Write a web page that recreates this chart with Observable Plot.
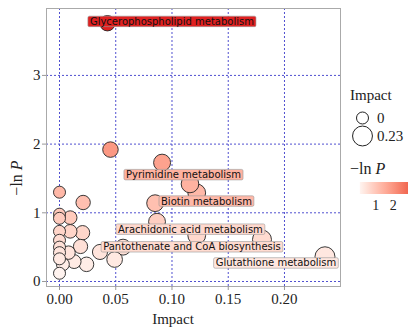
<!DOCTYPE html>
<html><head><meta charset="utf-8">
<script src="https://cdn.jsdelivr.net/npm/d3@7"></script>
<script src="https://cdn.jsdelivr.net/npm/@observablehq/plot@0.6"></script>
<style>html,body{margin:0;padding:0;background:#fff} svg{display:block}</style>
</head><body><div id="chart"></div>
<script>
// ---- data ----
const impact = [0, 0, 0, 0, 0, 0, 0, 0, 0.003, 0, 0.0095, 0.0095, 0.0205, 0.0187, 0.008, 0.013, 0.024, 0.021, 0.036, 0.049, 0.0565, 0.0453, 0.0426, 0.0912, 0.116, 0.122, 0.085, 0.0867, 0.122, 0.18, 0.236];
const lnP    = [1.30, 0.98, 0.92, 0.73, 0.60, 0.50, 0.42, 0.33, 0.25, 0.12, 0.93, 0.73, 0.71, 0.51, 0.42, 0.29, 0.25, 1.15, 0.43, 0.32, 0.50, 1.92, 3.76, 1.73, 1.42, 1.29, 1.14, 0.87, 0.67, 0.61, 0.36];
const pathway = [null, null, null, null, null, null, null, null, null, null, null, null, null, null, null, null, null, null, null, null, null, null,
  "Glycerophospholipid metabolism", null, "Pyrimidine metabolism", "Biotin metabolism", null, null,
  "Arachidonic acid metabolism", "Pantothenate and CoA biosynthesis", "Glutathione metabolism"];
const xTicks = [0, 0.05, 0.10, 0.15, 0.20];
const yTicks = [0, 1, 2, 3];
const sizeLegendValues = [0, 0.23];
const sizeLegendLabels = ["0", "0.23"];
const colorLegendTicks = [1, 2];

// ---- layout (label nudges in px, like ggrepel placement) ----
const nudge = {
  "Glycerophospholipid metabolism": [64.5, -1.5],
  "Pyrimidine metabolism": [-6.5, -9],
  "Biotin metabolism": [9.7, 8.5],
  "Arachidonic acid metabolism": [-6.3, -6],
  "Pantothenate and CoA biosynthesis": [-70, 7.5],
  "Glutathione metabolism": [-49, 6.5]
};

const points = impact.map((d, i) => ({impact: d, lnP: lnP[i], name: pathway[i]}));
const labelled = points.filter(d => d.name);

const serif = "'Liberation Serif', 'Times New Roman', serif";
const labelMarks = labelled.map(d => Plot.text([d], {
  x: "impact", y: "lnP", text: "name",
  dx: nudge[d.name][0], dy: nudge[d.name][1],
  fontFamily: "DejaVu Sans", fontSize: 10, fill: "#111"
}));

const plot = Plot.plot({
  width: 408, height: 329,
  marginLeft: 46, marginRight: 68, marginTop: 8, marginBottom: 43,
  style: {fontFamily: serif, fontSize: "15px", color: "#222", background: "#fff"},
  x: {domain: [-0.01156, 0.2498]},
  y: {domain: [-0.0728, 3.974]},
  r: {type: "sqrt", domain: [0, 0.236], range: [6, 10]},
  color: {type: "linear", domain: [0.1, 3.76], range: ["#fff4f0", "#e02020"], interpolate: d3.interpolateLab},
  marks: [
    Plot.gridX(xTicks, {stroke: "#5050d0", strokeOpacity: 1, strokeDasharray: "2,2"}),
    Plot.gridY(yTicks, {stroke: "#5050d0", strokeOpacity: 1, strokeDasharray: "2,2"}),
    Plot.frame({stroke: "#aaa"}),
    Plot.axisX(xTicks, {tickFormat: d3.format(".2f"), tickSize: 4, tickPadding: 3, stroke: "#999", color: "#222", label: null}),
    Plot.axisY(yTicks, {tickFormat: d3.format("d"), tickSize: 4, tickPadding: 2, stroke: "#999", color: "#222", label: null}),
    Plot.dot(points, {x: "impact", y: "lnP", r: "impact", fill: "lnP", stroke: "#222", strokeWidth: 0.9}),
    ...labelMarks
  ]
});
document.getElementById("chart").appendChild(plot);

const cS = plot.scale("color"), rS = plot.scale("r");
const svg = d3.select(plot);

// label boxes behind text
svg.selectAll('g[aria-label="text"]').each(function(_, gi) {
  const t = this.querySelector("text");
  const bb = t.getBBox();
  const rect = document.createElementNS("http://www.w3.org/2000/svg", "rect");
  rect.setAttribute("x", bb.x - 2);
  rect.setAttribute("y", bb.y + 0.25);
  rect.setAttribute("width", bb.width + 4);
  rect.setAttribute("height", bb.height - 0.5);
  rect.setAttribute("rx", 1.5);
  rect.setAttribute("fill", cS.apply(labelled[gi].lnP));
  rect.setAttribute("stroke", "#999");
  rect.setAttribute("stroke-width", 0.6);
  if (t.getAttribute("transform")) rect.setAttribute("transform", t.getAttribute("transform"));
  t.parentNode.insertBefore(rect, t);
});

// axis titles
svg.append("text").attr("x", 173).attr("y", 324).attr("text-anchor", "middle")
  .attr("font-family", serif).attr("font-size", 15).attr("fill", "#222").text("Impact");
const yl = svg.append("text").attr("transform", "translate(22,178) rotate(-90)").attr("text-anchor", "middle")
  .attr("font-family", serif).attr("font-size", 16).attr("fill", "#222");
yl.append("tspan").text("\u2212ln ");
yl.append("tspan").attr("font-style", "italic").text("P");

// size legend
const leg = svg.append("g").attr("font-family", serif).attr("font-size", 15).attr("fill", "#222")
  .attr("text-anchor", "start");
leg.append("text").attr("x", 350).attr("y", 100).text("Impact");
sizeLegendValues.forEach((v, i) => {
  const cy = [118, 136][i];
  leg.append("circle").attr("cx", 362.5).attr("cy", cy).attr("r", rS.apply(v))
    .attr("fill", "none").attr("stroke", "#222");
  leg.append("text").attr("x", 377).attr("y", cy).attr("dy", "0.35em").text(sizeLegendLabels[i]);
});

// colour legend
const ct = leg.append("text").attr("x", 350).attr("y", 174).attr("font-size", 16);
ct.append("tspan").text("\u2212ln ");
ct.append("tspan").attr("font-style", "italic").text("P");
const pos = v => 375.7 + (v - 1) * 17.6;
const [cmin, cmax] = cS.domain;
const grad = svg.append("defs").append("linearGradient").attr("id", "cbar");
d3.range(0, 1.0001, 0.1).forEach(t => {
  grad.append("stop").attr("offset", t).attr("stop-color", cS.apply(cmin + t * (cmax - cmin)));
});
leg.append("rect").attr("x", pos(cmin)).attr("y", 182).attr("width", pos(cmax) - pos(cmin)).attr("height", 12)
  .attr("fill", "url(#cbar)");
colorLegendTicks.forEach(v => {
  leg.append("text").attr("x", pos(v)).attr("y", 205).attr("dy", "0.35em").attr("text-anchor", "middle")
    .attr("font-size", 14).text(v);
});
</script>
</body></html>
